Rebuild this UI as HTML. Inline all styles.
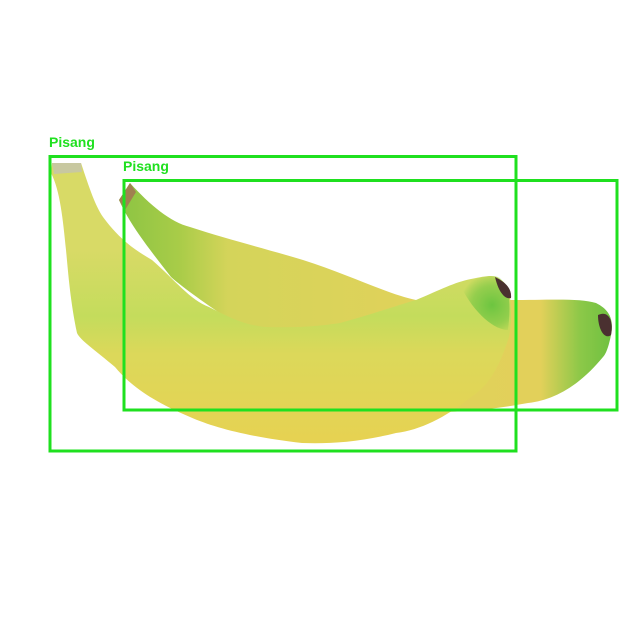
<!DOCTYPE html>
<html><head><meta charset="utf-8"><style>
html,body{margin:0;padding:0;background:#fff;width:640px;height:640px;overflow:hidden}
svg{display:block}
.lbl{font-family:"Liberation Sans",sans-serif;font-weight:bold;font-size:14px;fill:#1fe01f}
</style></head><body>
<svg width="640" height="640" viewBox="0 0 640 640">
<defs>
<linearGradient id="backG" x1="119" y1="0" x2="615" y2="0" gradientUnits="userSpaceOnUse">
<stop offset="0" stop-color="#8cc443"/><stop offset="0.12" stop-color="#a8cc48"/><stop offset="0.22" stop-color="#d4d45a"/><stop offset="0.6" stop-color="#e0d25a"/><stop offset="0.85" stop-color="#e2d05a"/><stop offset="0.93" stop-color="#8cc848"/><stop offset="1" stop-color="#6cc040"/>
</linearGradient>
<linearGradient id="frontG" x1="0" y1="250" x2="0" y2="440" gradientUnits="userSpaceOnUse">
<stop offset="0" stop-color="#d8da66"/><stop offset="0.35" stop-color="#c4dc5c"/><stop offset="0.55" stop-color="#dcd85a"/><stop offset="1" stop-color="#e6d252"/>
</linearGradient>
<radialGradient id="tipG" cx="492" cy="305" r="32" gradientUnits="userSpaceOnUse">
<stop offset="0" stop-color="#6cc540"/><stop offset="0.6" stop-color="#7cc845" stop-opacity="0.7"/><stop offset="1" stop-color="#6cc540" stop-opacity="0"/>
</radialGradient>
</defs>
<g>
<path d="M119,200 L130,183 C150,205 170,222 190,227 C230,240 270,250 303,260 C350,275 390,295 416,300 C450,300 480,298 510,300 C550,300 580,298 596,303 C610,310 614,320 611,335 C608,350 605,355 603,357 C580,385 555,400 528,403 C490,410 460,412 434,412 C380,410 300,360 230,320 C200,300 180,285 171,277 C150,250 130,225 119,200 Z" fill="url(#backG)"/>
<path d="M598,315 C608,310 614,320 611,335 C605,340 598,330 598,315 Z" fill="#4a3030"/>
<path d="M119,200 L130,183 L136,192 L125,210 Z" fill="#a08050"/>
</g>
<g>
<path d="M51,173 L52,163 L81,163 C90,190 95,205 103,217 C120,240 135,250 152,260 C175,280 190,300 209,307 C230,318 245,325 265,327 C300,328 320,326 340,323 C370,315 395,306 416,300 C440,290 455,282 471,279 C485,276 492,275 497,277 C505,282 510,288 510,297 C512,315 511,325 509,337 C500,365 490,385 471,397 C445,418 420,430 396,433 C360,442 330,444 302,443 C250,437 215,428 190,417 C150,400 130,385 115,367 C95,350 80,340 77,333 C70,300 68,270 66,250 C63,220 60,190 51,173 Z" fill="url(#frontG)"/>
<path d="M460,285 C480,276 495,274 500,278 C510,288 511,305 508,330 C495,330 475,315 460,285 Z" fill="url(#tipG)"/>
<path d="M495,277 C505,282 512,288 511,298 C504,300 498,290 495,277 Z" fill="#4a3030"/>
<path d="M52,163 L81,163 L82,172 L54,174 Z" fill="#c8c8a0"/>
</g>
<g>
<rect x="50" y="156.5" width="466" height="294.5" fill="none" stroke="#1fe01f" stroke-width="3"/>
<text class="lbl" x="49" y="147">Pisang</text>
</g>
<g>
<rect x="124" y="180.5" width="493" height="229.5" fill="none" stroke="#1fe01f" stroke-width="3"/>
<text class="lbl" x="123" y="171">Pisang</text>
</g>
</svg>
</body></html>
